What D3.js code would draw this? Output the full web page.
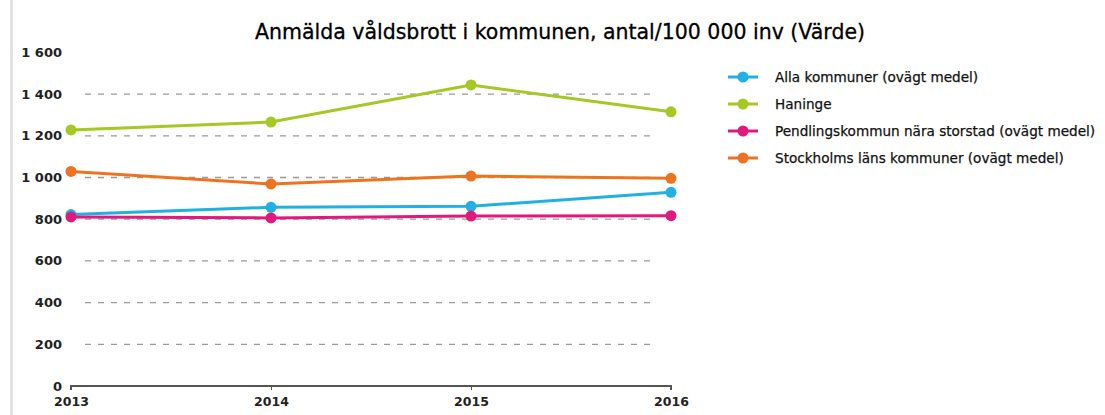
<!DOCTYPE html>
<html>
<head>
<meta charset="utf-8">
<script src="https://cdn.jsdelivr.net/npm/d3@7"></script>
<style>
  body { margin: 0; background: #fff; }
  svg { display: block; font-family: "DejaVu Sans", Verdana, sans-serif; }
</style>
</head>
<body>
<div id="chart"></div>
<script>
// values
const years = ["2013", "2014", "2015", "2016"];
const yTicks = [0, 200, 400, 600, 800, 1000, 1200, 1400, 1600];
const names = ["Alla kommuner (ovägt medel)", "Haninge",
               "Pendlingskommun nära storstad (ovägt medel)",
               "Stockholms läns kommuner (ovägt medel)"];
const colors = ["#22b0e4", "#a5c824", "#e2197c", "#ee7320"];
const alla = [822, 857, 862, 929];
const haninge = [1228, 1266, 1444, 1315];
const pendling = [811, 806, 815, 817];
const stockholm = [1029, 969, 1007, 996];

const series = [alla, haninge, pendling, stockholm];

var width = 1105, height = 415;
var svg = d3.select("#chart").append("svg")
    .attr("width", width)
    .attr("height", height);

// grey frame edge at left
svg.append("rect")
    .attr("x", 10).attr("y", 0)
    .attr("width", 3).attr("height", height)
    .attr("fill", "#e2e2e2");

var x = d3.scalePoint().domain(years).range([71, 671]);
var y = d3.scaleLinear().domain([0, 1600]).range([386, 52.4]);

svg.append("text")
    .attr("x", 560)
    .attr("y", 39)
    .attr("text-anchor", "middle")
    .attr("font-size", "20.5px")
    .attr("fill", "#000")
    .attr("stroke", "#000")
    .attr("stroke-width", 0.3)
    .text("Anmälda våldsbrott i kommunen, antal/100 000 inv (Värde)");

// dashed grid
svg.append("g").selectAll("line")
    .data(yTicks.filter(d => d > 0 && d < 1600))
    .join("line")
    .attr("x1", 85).attr("x2", 657)
    .attr("y1", d => y(d)).attr("y2", d => y(d))
    .attr("stroke", "#999")
    .attr("stroke-width", 1.3)
    .attr("stroke-dasharray", "6,7");

// y labels
svg.append("g").selectAll("text")
    .data(yTicks)
    .join("text")
    .attr("x", 62)
    .attr("y", d => y(d) + 4.5)
    .attr("text-anchor", "end")
    .attr("font-size", "13px")
    .attr("font-weight", "bold")
    .attr("fill", "#222")
    .text(d => d3.format(",")(d).replace(",", " "));

// x axis
var xAxis = svg.append("g")
    .attr("transform", "translate(0,386)")
    .call(d3.axisBottom(x).tickSize(4).tickPadding(7));
xAxis.select(".domain").attr("stroke", "#555").attr("stroke-width", 2)
    .attr("d", "M71,4V0H671V4");
xAxis.selectAll(".tick line").attr("stroke", "#555");
xAxis.selectAll(".tick text")
    .attr("font-size", "12.5px")
    .attr("font-weight", "bold")
    .attr("font-family", "DejaVu Sans, sans-serif")
    .attr("fill", "#222");

var line = d3.line()
    .x((d, i) => x(years[i]))
    .y(d => y(d));

series.forEach(function (s, k) {
    var g = svg.append("g");
    g.append("path")
        .attr("d", line(s))
        .attr("fill", "none")
        .attr("stroke", colors[k])
        .attr("stroke-width", 3);
    g.selectAll("circle")
        .data(s)
        .join("circle")
        .attr("cx", (d, i) => x(years[i]))
        .attr("cy", d => y(d))
        .attr("r", 5.5)
        .attr("fill", colors[k]);
});

// legend
var legY = [77, 104, 131, 158];
for (var k = 0; k < names.length; k++) {
    var lg = svg.append("g").attr("transform", "translate(0," + legY[k] + ")");
    lg.append("line")
        .attr("x1", 728).attr("x2", 758)
        .attr("stroke", colors[k]).attr("stroke-width", 3);
    lg.append("circle")
        .attr("cx", 743).attr("r", 5.5)
        .attr("fill", colors[k]);
    lg.append("text")
        .attr("x", 775).attr("y", 5)
        .attr("font-size", "13.6px")
        .attr("fill", "#111")
        .attr("stroke", "#111")
        .attr("stroke-width", 0.25)
        .text(names[k]);
}
</script>
</body>
</html>
